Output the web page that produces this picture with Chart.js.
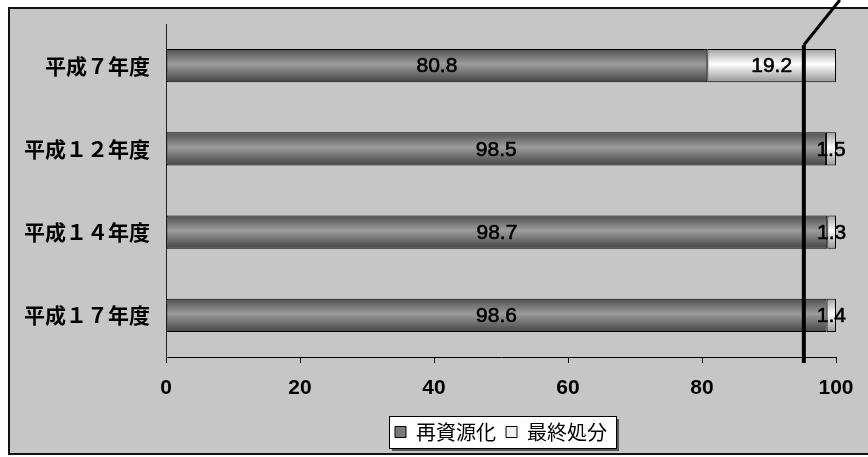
<!DOCTYPE html>
<html>
<head>
<meta charset="utf-8">
<script src="https://cdn.jsdelivr.net/npm/chart.js@4"></script>
<style>
  html, body { margin: 0; padding: 0; background: #fff; }
  canvas { display: block; }
</style>
</head>
<body>
<canvas id="chart" width="868" height="457"></canvas>
<script>
const categories = ['平成７年度', '平成１２年度', '平成１４年度', '平成１７年度'];
const recycled = [80.8, 98.5, 98.7, 98.6];
const disposed = [19.2, 1.5, 1.3, 1.4];
const seriesNames = ['再資源化', '最終処分'];
const xMin = 0;
const xMax = 100;
const xStep = 20;
const targetValue = 95.2; // thick marker line

const ctx = document.getElementById('chart').getContext('2d');

// vertical gradient per bar, built from the y scale
const barGradient = (stops) => (context) => {
  const chart = context.chart;
  const y = chart.scales.y;
  if (!y || context.dataIndex === undefined) return stops[1];
  const center = y.getPixelForValue(context.dataIndex);
  const half = (y.height / categories.length) * 0.4 / 2;
  const g = chart.ctx.createLinearGradient(0, center - half, 0, center + half);
  g.addColorStop(0, stops[0]);
  g.addColorStop(0.45, stops[1]);
  g.addColorStop(1, stops[2]);
  return g;
};

const legendColors = ['#7a7a7a', '#efefef'];

const framePlugin = {
  id: 'frame',
  beforeDraw(chart) {
    const c = chart.ctx;
    c.save();
    c.fillStyle = '#ffffff';
    c.fillRect(0, 0, chart.width, chart.height);
    c.fillStyle = '#c6c6c6';
    c.fillRect(8, 7, chart.width, chart.height - 9);
    c.strokeStyle = '#111';
    c.lineWidth = 2;
    c.strokeRect(9, 8, chart.width, chart.height - 11);

    // legend box
    const boxes = chart.legend && chart.legend.legendHitBoxes;
    if (boxes && boxes.length) {
      const first = boxes[0];
      const last = boxes[boxes.length - 1];
      const left = first.left - 6;
      const right = last.left + last.width + 9;
      const top = first.top + first.height / 2 - 16;
      const h = 32;
      c.fillStyle = '#555';
      c.fillRect(left + 3, top + 3, right - left, h);
      c.fillStyle = '#fff';
      c.fillRect(left, top, right - left, h);
      c.strokeStyle = '#000';
      c.lineWidth = 1;
      c.strokeRect(left + 0.5, top + 0.5, right - left, h);
    }
    c.restore();
  }
};

const labelPlugin = {
  id: 'barLabels',
  afterDatasetsDraw(chart) {
    const c = chart.ctx;
    const x = chart.scales.x;
    const area = chart.chartArea;
    c.save();
    // target line with its leader
    const lx = x.getPixelForValue(targetValue);
    const top = area.top + 21;
    c.strokeStyle = '#000';
    c.lineWidth = 4;
    c.beginPath();
    c.moveTo(lx, area.bottom + 6);
    c.lineTo(lx, top);
    c.stroke();
    c.lineWidth = 3;
    c.beginPath();
    c.moveTo(lx, top);
    c.lineTo(lx + 36, 0);
    c.stroke();

    c.font = '21px "Liberation Sans", Arial, sans-serif';
    c.fillStyle = '#000';
    c.strokeStyle = '#000';
    c.lineWidth = 0.6;
    c.textAlign = 'center';
    c.textBaseline = 'middle';
    chart.data.datasets.forEach((ds, i) => {
      const meta = chart.getDatasetMeta(i);
      meta.data.forEach((bar, j) => {
        const cx = (bar.x + bar.base) / 2;
        c.fillText(ds.data[j].toFixed(1), cx, bar.y + 1);
        c.strokeText(ds.data[j].toFixed(1), cx, bar.y + 1);
      });
    });
    c.restore();
  }
};

const chart = new Chart(ctx, {
  type: 'bar',
  data: {
    labels: categories,
    datasets: [
      {
        label: seriesNames[0],
        data: recycled,
        backgroundColor: barGradient(['#505050', '#9c9c9c', '#444444']),
        borderColor: '#000',
        borderWidth: 1,
        borderSkipped: false,
      },
      {
        label: seriesNames[1],
        data: disposed,
        backgroundColor: barGradient(['#a0a0a0', '#ffffff', '#959595']),
        borderColor: '#000',
        borderWidth: 1,
        borderSkipped: false,
      },
    ],
  },
  options: {
    indexAxis: 'y',
    responsive: false,
    animation: false,
    devicePixelRatio: 1,
    categoryPercentage: 1,
    barPercentage: 0.4,
    layout: { padding: { top: 24, right: 32, bottom: 5, left: 0 } },
    scales: {
      x: {
        stacked: true,
        min: xMin,
        max: xMax,
        ticks: {
          stepSize: xStep,
          color: '#000',
          padding: 13,
          font: { family: '"Liberation Sans", Arial, sans-serif', size: 21, weight: 'bold' },
        },
        grid: { drawOnChartArea: false, drawTicks: true, tickLength: 6, color: '#000' },
        border: { display: true, color: '#000', width: 1 },
        afterFit: (scale) => {
          scale.height = 55;
          scale.paddingLeft = 0;
          scale.paddingRight = 0;
        },
      },
      y: {
        stacked: true,
        ticks: {
          color: '#000',
          padding: 16,
          font: { family: '"Noto Sans CJK JP", sans-serif', size: 21, weight: 'bold' },
        },
        grid: { display: false, drawTicks: false },
        border: { display: true, color: '#222', width: 1 },
        afterFit: (scale) => {
          scale.width = 166;
          scale.paddingTop = 0;
          scale.paddingBottom = 0;
        },
      },
    },
    plugins: {
      tooltip: { enabled: false },
      legend: {
        position: 'bottom',
        fullSize: false,
        labels: {
          boxWidth: 11,
          boxHeight: 11,
          padding: 10,
          color: '#000',
          font: { family: '"Noto Sans CJK JP", sans-serif', size: 20 },
          generateLabels: (chart) => chart.data.datasets.map((ds, i) => ({
            text: ds.label,
            fillStyle: legendColors[i],
            strokeStyle: '#000',
            lineWidth: 1,
            hidden: false,
            datasetIndex: i,
          })),
        },
      },
    },
  },
  plugins: [framePlugin, labelPlugin],
});
</script>
</body>
</html>
